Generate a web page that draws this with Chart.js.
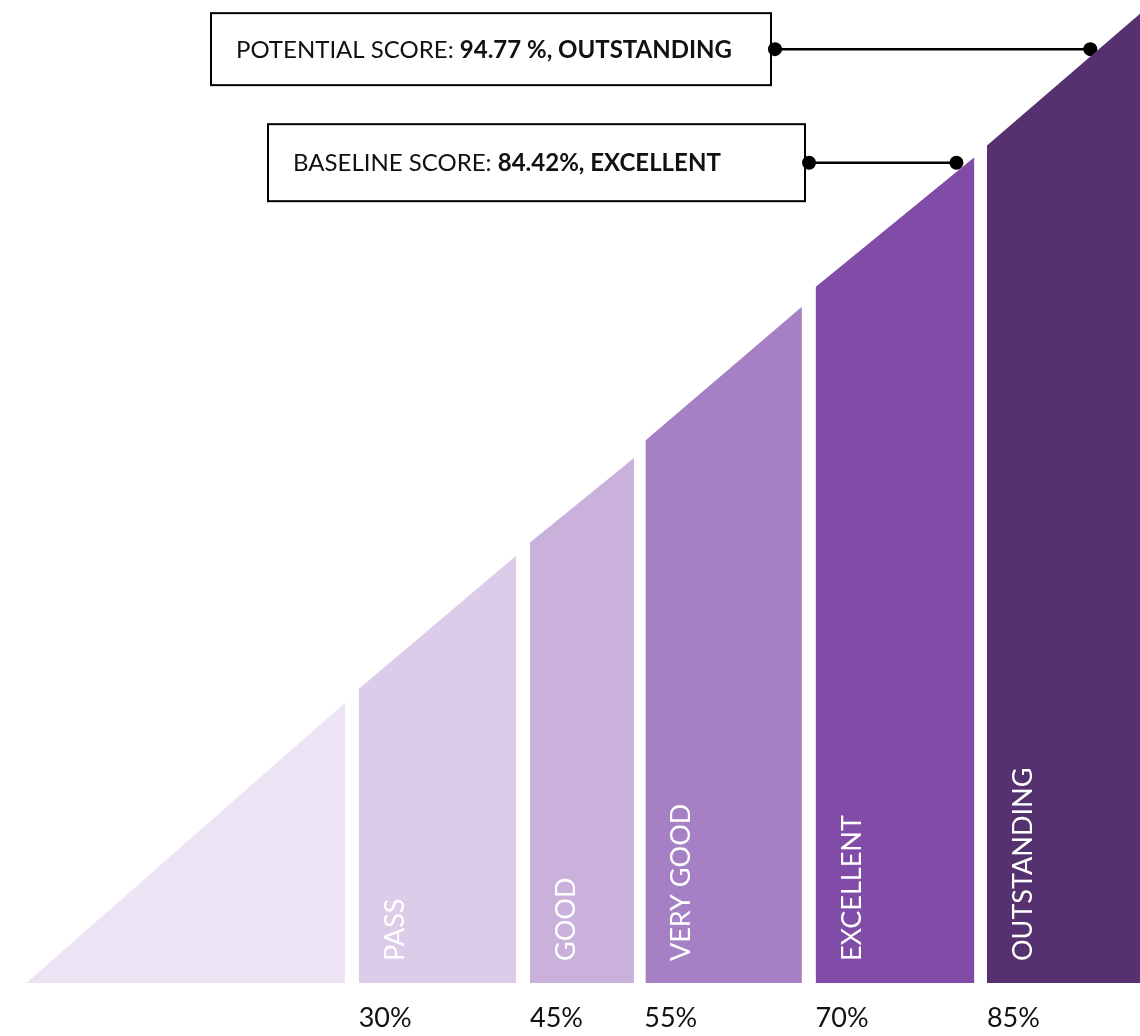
<!DOCTYPE html>
<html>
<head>
<meta charset="utf-8">
<script src="https://cdn.jsdelivr.net/npm/chart.js@4.4.0/dist/chart.umd.min.js"></script>
<style>
  html, body { margin: 0; padding: 0; background: #fff; }
</style>
</head>
<body>
<canvas id="scoreWedge" width="1140" height="1036"></canvas>
<script>
// bands of the score wedge (x = score %, y = height of the band top)
const bandNames = ['', 'PASS', 'GOOD', 'VERY GOOD', 'EXCELLENT', 'OUTSTANDING'];
const bandStart = [0.9, 30, 45, 55.1, 70, 85];
const bandEnd = [28.8, 43.8, 54.1, 68.8, 83.9, 98.4];
const bandTopStart = [0, 29.9, 44.8, 55.2, 70.8, 85.2];
const bandTopEnd = [28.5, 43.5, 53.4, 68.8, 84.0, 98.6];
const bandColors = ['#ECE4F4', '#DCCCE9', '#CAB1DC', '#A680C4', '#804CA8', '#55326F'];
const thresholdTicks = [30, 45, 55, 70, 85];

// score call-outs
const scoreLabels = ['POTENTIAL SCORE: ', 'BASELINE SCORE: '];
const scoreValues = ['94.77 %, OUTSTANDING', '84.42%, EXCELLENT'];
const markerX = [94.05, 82.33];
const markerY = [95.0, 83.45];

const bandDatasets = bandNames.map((name, i) => ({
    label: name || 'BELOW PASS',
    data: [{ x: bandStart[i], y: bandTopStart[i] }, { x: bandEnd[i], y: bandTopEnd[i] }],
    showLine: true,
    fill: 'origin',
    backgroundColor: bandColors[i],
    borderColor: 'rgba(0,0,0,0)',
    borderWidth: 0,
    pointRadius: 0,
    tension: 0
}));

const markerDataset = {
    label: 'Scores',
    data: markerX.map((v, i) => ({ x: v, y: markerY[i] })),
    showLine: false,
    pointRadius: 7,
    pointHoverRadius: 7,
    backgroundColor: '#000',
    borderWidth: 0
};

const calloutPlugin = {
    id: 'callouts',
    afterDatasetsDraw(chart) {
        const { ctx, scales: { x, y } } = chart;
        const base = y.getPixelForValue(0);

        // rotated band names
        ctx.save();
        ctx.fillStyle = '#fff';
        ctx.font = '400 27px Lato';
        ctx.textAlign = 'left';
        ctx.textBaseline = 'alphabetic';
        bandNames.forEach((name, i) => {
            if (!name) return;
            ctx.save();
            ctx.translate(x.getPixelForValue(bandStart[i]) + 45, base - 22);
            ctx.rotate(-Math.PI / 2);
            ctx.fillText(name, 0, 0);
            ctx.restore();
        });
        ctx.restore();

        // boxes + leader lines
        const boxes = [{ left: 211, width: 560, height: 72 }, { left: 268, width: 537, height: 77 }];
        ctx.save();
        scoreLabels.forEach((lab, i) => {
            const b = boxes[i];
            const my = y.getPixelForValue(markerY[i]);
            const mx = x.getPixelForValue(markerX[i]);
            const top = my - b.height / 2;
            ctx.strokeStyle = '#000';
            ctx.lineWidth = 2;
            ctx.strokeRect(b.left, top, b.width, b.height);

            ctx.lineWidth = 2.5;
            ctx.beginPath();
            ctx.moveTo(b.left + b.width + 4, my);
            ctx.lineTo(mx, my);
            ctx.stroke();
            ctx.fillStyle = '#000';
            ctx.beginPath();
            ctx.arc(b.left + b.width + 4, my, 7, 0, Math.PI * 2);
            ctx.fill();

            ctx.fillStyle = '#111';
            ctx.textBaseline = 'middle';
            ctx.textAlign = 'left';
            ctx.font = '400 24px Lato';
            const tx = b.left + 25;
            ctx.fillText(lab, tx, my + 1);
            const w = ctx.measureText(lab).width;
            ctx.font = '700 24px Lato';
            ctx.fillText(scoreValues[i], tx + w, my + 1);
        });
        ctx.restore();
    }
};

new Chart(document.getElementById('scoreWedge'), {
    type: 'scatter',
    data: {
        datasets: [...bandDatasets, markerDataset]
    },
    options: {
        responsive: false,
        animation: false,
        layout: {
            autoPadding: false,
            padding: { left: 16, right: 0, top: 0, bottom: 0 }
        },
        scales: {
            x: {
                type: 'linear',
                min: 0,
                max: 98.4,
                grid: { display: false, drawTicks: false },
                border: { display: false },
                afterBuildTicks: (axis) => {
                    axis.ticks = thresholdTicks.map(v => ({ value: v }));
                },
                afterFit: (axis) => {
                    axis.height = 53;
                    axis.paddingLeft = 0;
                    axis.paddingRight = 0;
                },
                ticks: {
                    align: 'start',
                    padding: 19,
                    autoSkip: false,
                    maxRotation: 0,
                    color: '#111',
                    font: { family: 'Lato', size: 27 },
                    callback: (v) => v + '%'
                }
            },
            y: {
                display: false,
                min: 0,
                max: 100
            }
        },
        plugins: {
            legend: { display: false },
            tooltip: { enabled: false }
        }
    },
    plugins: [calloutPlugin]
});
</script>
</body>
</html>
